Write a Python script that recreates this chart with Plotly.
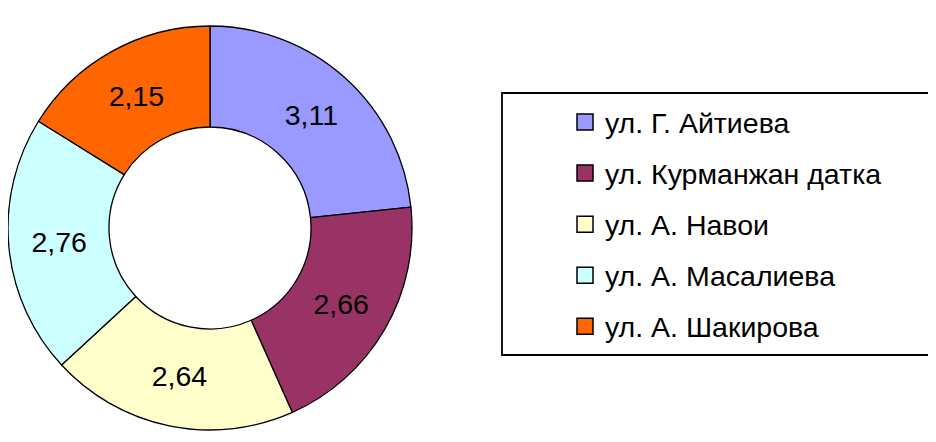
import plotly.graph_objects as go

streets = ["ул. Г. Айтиева", "ул. Курманжан датка", "ул. А. Навои", "ул. А. Масалиева", "ул. А. Шакирова"]
values = [3.11, 2.66, 2.64, 2.76, 2.15]
colors = ["#9999FF", "#993366", "#FFFFCC", "#CCFFFF", "#FF6600"]

W, H = 936, 442
OFF = 8  # default page body margin offsets the figure by 8px
FONT = "Liberation Sans, Arial, sans-serif"


def px(x):
    return (x - OFF) / W


def py(y):
    return 1 - (y - OFF) / H


fig = go.Figure()
fig.add_trace(go.Pie(
    values=values, labels=streets, sort=False, direction="clockwise", rotation=0,
    hole=0.5,
    marker=dict(colors=colors, line=dict(color="black", width=1.3)),
    texttemplate="%{value:.2f}", textposition="inside", insidetextorientation="horizontal",
    textfont=dict(family=FONT, size=28.5, color="black"),
    domain=dict(x=[px(8), px(412)], y=[py(430), py(26)]),
    showlegend=False, hoverinfo="label+value",
))

for i, (s, c) in enumerate(zip(streets, colors)):
    fig.add_trace(go.Scatter(
        x=[None], y=[None], mode="markers", name=s, legendgroup=f"g{i}",
        marker=dict(symbol="square", size=16, color=c, line=dict(color="black", width=1.5)),
        showlegend=True,
    ))

fig.add_shape(type="rect", xref="paper", yref="paper",
              x0=px(502), x1=px(933), y0=py(355), y1=py(93),
              line=dict(color="black", width=1.8), fillcolor="rgba(0,0,0,0)")

fig.update_layout(
    width=W, height=H, margin=dict(l=0, r=0, t=0, b=0),
    paper_bgcolor="white", plot_bgcolor="white",
    separators=", ",
    xaxis=dict(visible=False), yaxis=dict(visible=False),
    legend=dict(x=px(565), xanchor="left", y=py(97), yanchor="top",
                font=dict(family=FONT, size=28.5, color="black"),
                tracegroupgap=11, bgcolor="rgba(0,0,0,0)", borderwidth=0,
                itemclick=False, itemdoubleclick=False),
)

fig.write_html("out.html")
